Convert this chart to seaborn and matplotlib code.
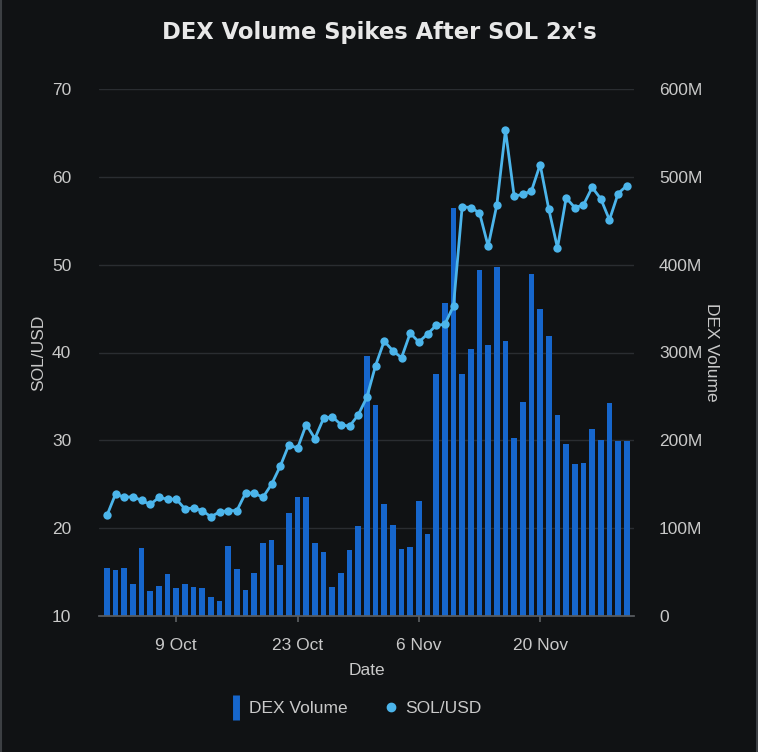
import matplotlib
matplotlib.use("Agg")
import matplotlib.pyplot as plt
import matplotlib.dates as mdates
from matplotlib.lines import Line2D
from matplotlib.ticker import FuncFormatter
import seaborn as sns
import pandas as pd
import numpy as np

# ---- data ----
start_date = "2023-10-01"
n_days = 61
sol_usd = [21.45, 23.9, 23.5, 23.6, 23.15, 22.7, 23.5, 23.3, 23.3, 22.2,
           22.3, 22.0, 21.3, 21.85, 22.0, 22.0, 24.0, 24.0, 23.5, 25.0,
           27.05, 29.5, 29.1, 31.8, 30.2, 32.5, 32.7, 31.8, 31.6, 32.9,
           34.9, 38.5, 41.3, 40.2, 39.4, 42.2, 41.2, 42.1, 43.1, 43.2,
           45.3, 56.6, 56.5, 55.9, 52.1, 56.8, 65.3, 57.8, 58.0, 58.4,
           61.4, 56.3, 51.9, 57.6, 56.5, 56.8, 58.8, 57.5, 55.1, 58.1,
           59.0]
dex_volume_m = [55, 52, 55, 37, 77, 28, 34.5, 47.5, 32, 37,
                33, 32, 21.5, 17, 80, 54, 30, 49, 83, 86,
                58, 117, 135, 135, 83, 73, 33, 49, 75, 103,
                296, 240, 127, 104, 76, 78, 131, 93, 276, 356,
                464, 276, 304, 394, 308, 397, 313, 203, 244, 389,
                350, 319, 229, 196, 173, 174, 213, 200, 243, 199,
                199]
tick_dates = ["2023-10-09", "2023-10-23", "2023-11-06", "2023-11-20"]

dates = pd.date_range(start_date, periods=n_days, freq="D")
df = pd.DataFrame({"Date": dates, "SOL/USD": sol_usd,
                   "DEX Volume": np.array(dex_volume_m) * 1e6})

# ---- style ----
BG = "#101214"
TXT = "#c9c9c9"
GRID = "#2a2d31"
BAR = "#1666cc"
LINE = "#4cb5eb"

sns.set_theme(style="dark")
plt.rcParams["font.family"] = ["Liberation Sans", "DejaVu Sans"]

fig = plt.figure(figsize=(7.58, 7.52), dpi=100, facecolor=BG)
ax2 = fig.add_axes([99 / 758, 1 - 616 / 752, (634 - 99) / 758, (616 - 89) / 752])
ax2.set_facecolor(BG)
ax = ax2.twinx()

# bars (volume) on the right axis
ax2.bar(df["Date"], df["DEX Volume"], width=0.64, color=BAR, zorder=2,
        linewidth=0, edgecolor="none", label="DEX Volume")
ax2.yaxis.tick_right()
ax2.yaxis.set_label_position("right")
ax2.set_ylim(0, 600e6)
ax2.set_yticks(np.arange(0, 600e6 + 1, 100e6))
ax2.yaxis.set_major_formatter(FuncFormatter(lambda v, p: "0" if v == 0 else f"{v/1e6:.0f}M"))
ax2.grid(True, axis="y", color=GRID, linewidth=1, zorder=0)
ax2.grid(False, axis="x")
ax2.set_axisbelow(True)

# line (SOL) on the left axis, drawn above bars
sns.lineplot(data=df, x="Date", y="SOL/USD", ax=ax, color=LINE, linewidth=2,
             marker="o", markersize=6, markeredgewidth=0, label="SOL/USD",
             legend=False)
ax.yaxis.tick_left()
ax.yaxis.set_label_position("left")
ax.set_ylim(10, 70)
ax.set_yticks(np.arange(10, 71, 10))
ax.grid(False)
ax.patch.set_visible(False)

xmin = dates[0] - pd.Timedelta(hours=22)
xmax = dates[-1] + pd.Timedelta(hours=20)
for a in (ax, ax2):
    a.set_xlim(xmin, xmax)
    for s in a.spines.values():
        s.set_visible(False)

ticks = pd.to_datetime(tick_dates)
ax2.set_xticks(ticks)
ax2.xaxis.set_major_formatter(mdates.DateFormatter("%-d %b"))
ax.set_xticks(ticks)
ax.tick_params(axis="x", bottom=False, labelbottom=False)
ax.set_xlabel("")

ax2.spines["bottom"].set_visible(True)
ax2.spines["bottom"].set_color("#5a5d61")
ax2.tick_params(axis="x", colors=TXT, labelsize=12.5, length=4, color="#5a5d61",
                pad=12, bottom=True)
ax2.tick_params(axis="y", colors=TXT, labelsize=12.5, length=0, pad=18, right=False)
ax.tick_params(axis="y", colors=TXT, labelsize=12.5, length=0, pad=20, left=False)

ax2.set_xlabel("Date", color=TXT, fontsize=12.5, labelpad=7)
ax2.set_ylabel("DEX Volume", color=TXT, fontsize=12.5, rotation=270, labelpad=12)
ax.set_ylabel("SOL/USD", color=TXT, fontsize=12.5, labelpad=4)

fig.text(0.5, 1 - 33 / 752, "DEX Volume Spikes After SOL 2x's", ha="center",
         va="center", color="#e8e8e8", fontsize=16.3, fontweight="bold",
         family=["DejaVu Sans"])

handles = [Line2D([0], [0], color=BAR, linestyle="none", marker="|",
                  markersize=18, markeredgewidth=5),
           Line2D([0], [0], color=LINE, linestyle="none", marker="o", markersize=6)]
fig.legend(handles, ["DEX Volume", "SOL/USD"], loc="center",
           bbox_to_anchor=(356 / 758, 1 - 708 / 752), ncol=2, frameon=False,
           fontsize=12.5, labelcolor=TXT, handlelength=0.6, handletextpad=0.5,
           columnspacing=2.2)

# thin edge lines on left/right of the figure
fig.add_artist(Line2D([0.0007, 0.0007], [0, 1], transform=fig.transFigure,
                      color="#3c3f43", linewidth=1.5))
fig.add_artist(Line2D([0.9993, 0.9993], [0, 1], transform=fig.transFigure,
                      color="#3c3f43", linewidth=1.5))

fig.savefig("out.png", dpi=100, facecolor=BG)
